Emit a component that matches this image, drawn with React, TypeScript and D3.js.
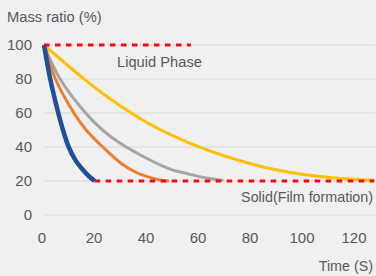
import React from "react";
import * as d3 from "d3";

const blueSeries: [number, number][] = [
  [0, 100], [2.4, 80], [5.5, 60], [7.3, 50], [9.5, 40], [12.2, 32], [15, 26.5], [17.5, 22.5], [19.5, 20],
];
const orangeSeries: [number, number][] = [
  [0, 100], [4.4, 80], [11.5, 60], [16.2, 50], [22.6, 40], [30, 30], [35.5, 25], [41, 22], [45, 20.5], [48, 20],
];
const graySeries: [number, number][] = [
  [0, 100], [6.2, 80], [16, 60], [22.5, 50], [29, 42.5], [40.6, 32.5], [48.5, 27], [56, 24], [63, 21.6], [69, 20.3],
];
const yellowSeries: [number, number][] = [
  [0, 100], [15, 80.5], [25, 68.8], [40.6, 53.5], [56, 42.3], [71, 34], [90, 26.3], [110, 22], [120, 20.9], [127, 20.5],
];
const liquidLine: [number, number][] = [[0, 100], [56.5, 100]];
const solidLine: [number, number][] = [[19.5, 20], [127, 20]];

const xTicks = [0, 20, 40, 60, 80, 100, 120];
const yTicks = [0, 20, 40, 60, 80, 100];

const W = 376;
const H = 276;

export default function App() {
  const x = d3.scaleLinear().domain([0, 120]).range([44, 356]);
  const y = d3.scaleLinear().domain([0, 100]).range([215, 45]);
  const line = d3
    .line<[number, number]>()
    .x((d) => x(d[0]))
    .y((d) => y(d[1]))
    .curve(d3.curveCatmullRom.alpha(0.5));
  const straight = d3
    .line<[number, number]>()
    .x((d) => x(d[0]))
    .y((d) => y(d[1]));
  const font = "'Liberation Sans', Arial, sans-serif";
  const textColor = "#595959";
  const red = "#ee0a16";

  return (
    <svg
      width={W}
      height={H}
      style={{ position: "absolute", left: 0, top: 0 }}
      fontFamily={font}
    >
      <rect x={0} y={0} width={W} height={H} fill="#f0f0f0" />
      {yTicks.map((t) => (
        <g key={t}>
          <line x1={45} x2={375} y1={y(t)} y2={y(t)} stroke="#d9d9d9" strokeWidth={1} />
          <text x={32} y={y(t) + 5.3} textAnchor="end" fontSize={15} fill={textColor}>
            {t}
          </text>
        </g>
      ))}
      {xTicks.map((t) => (
        <text key={t} x={x(t) - 2} y={243} textAnchor="middle" fontSize={15} fill={textColor}>
          {t}
        </text>
      ))}
      <text x={7} y={22} fontSize={14.7} fill={textColor}>Mass ratio (%)</text>
      <text x={117} y={67} fontSize={14.7} fill={textColor}>Liquid Phase</text>
      <text x={373} y={202} textAnchor="end" fontSize={14.3} fill={textColor}>Solid(Film formation)</text>
      <text x={373} y={271} textAnchor="end" fontSize={14.3} fill={textColor}>Time (S)</text>

      <path d={line(yellowSeries) || ""} fill="none" stroke="#ffc000" strokeWidth={3} />
      <path d={line(graySeries) || ""} fill="none" stroke="#a5a5a5" strokeWidth={3} />
      <path d={line(orangeSeries) || ""} fill="none" stroke="#ed7d31" strokeWidth={3} />
      <path d={line(blueSeries) || ""} fill="none" stroke="#1f4e9c" strokeWidth={4.5} />

      <path d={straight(liquidLine) || ""} fill="none" stroke={red} strokeWidth={3.2} strokeDasharray="5.5,5.5" />
      <path d={straight(solidLine) || ""} fill="none" stroke={red} strokeWidth={3.2} strokeDasharray="5.5,5.5" />
    </svg>
  );
}
